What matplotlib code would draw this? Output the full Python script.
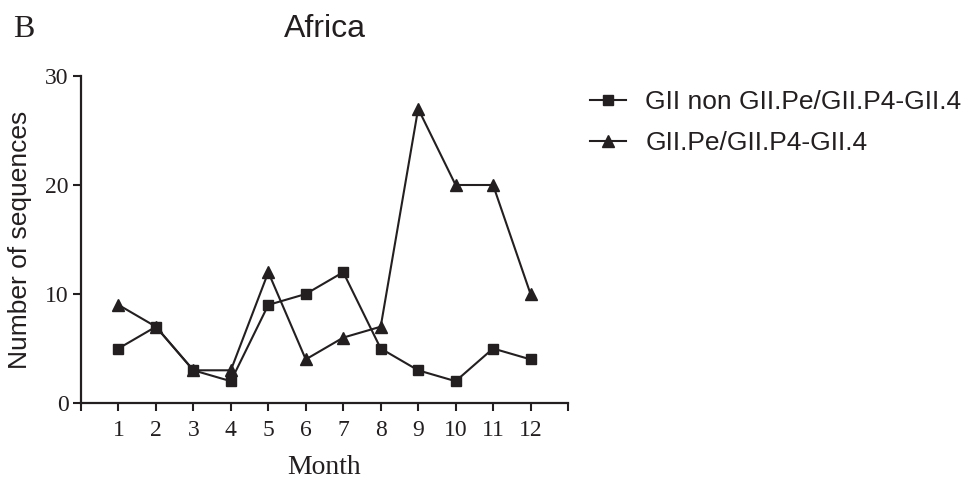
import matplotlib

matplotlib.use("Agg")
import matplotlib.pyplot as plt

months = list(range(1, 13))
non_gii4 = [5, 7, 3, 2, 9, 10, 12, 5, 3, 2, 5, 4]
gii4 = [9, 7, 3, 3, 12, 4, 6, 7, 27, 20, 20, 10]
label_non = "GII non GII.Pe/GII.P4-GII.4"
label_gii4 = "GII.Pe/GII.P4-GII.4"

ink = "#231f20"
serif = "Liberation Serif"
sans = "Liberation Sans"

fig = plt.figure(figsize=(9.73, 4.79), dpi=100)
ax = fig.add_axes([81 / 973, 1 - 403 / 479, (568 - 81) / 973, (403 - 76) / 479])

ax.plot(months, non_gii4, color=ink, marker="s", markersize=7.5, linewidth=1.5, label=label_non)
ax.plot(months, gii4, color=ink, marker="^", markersize=8, linewidth=1.5, label=label_gii4)

ax.set_xlim(0, 13)
ax.set_ylim(0, 30)
ax.set_xticks(range(0, 14))
ax.set_xticklabels([""] + [str(m) for m in months] + [""])
ax.set_yticks([0, 10, 20, 30])

for side in ("top", "right"):
    ax.spines[side].set_visible(False)
for side in ("left", "bottom"):
    ax.spines[side].set_linewidth(1.6)
    ax.spines[side].set_color(ink)
ax.tick_params(direction="out", length=6, width=1.5, colors=ink)
ax.tick_params(axis="x", pad=6)
ax.tick_params(axis="y", pad=3)
for lbl in ax.get_xticklabels() + ax.get_yticklabels():
    lbl.set_fontfamily(serif)
    lbl.set_fontsize(17)

ax.set_xlabel("Month", fontfamily=serif, fontsize=20, color=ink, labelpad=10)
ax.set_ylabel("Number of sequences", fontfamily=sans, fontsize=19, color=ink)
ax.yaxis.set_label_coords(-0.10, 0.5)

fig.text(325 / 973, 1 - 37 / 479, "Africa", fontfamily=sans, fontsize=23, color=ink,
         ha="center", va="baseline")
fig.text(13 / 973, 1 - 37 / 479, "B", fontfamily=serif, fontsize=23, color=ink,
         ha="left", va="baseline")

leg = ax.legend(loc="upper left", bbox_to_anchor=(590 / 973, 1 - 90 / 479),
                bbox_transform=fig.transFigure, frameon=False,
                prop={"family": sans, "size": 19}, handlelength=1.35,
                handletextpad=0.75, labelspacing=0.64, borderpad=0, borderaxespad=0)
for t in leg.get_texts():
    t.set_color(ink)

fig.savefig("out.png", dpi=100)
